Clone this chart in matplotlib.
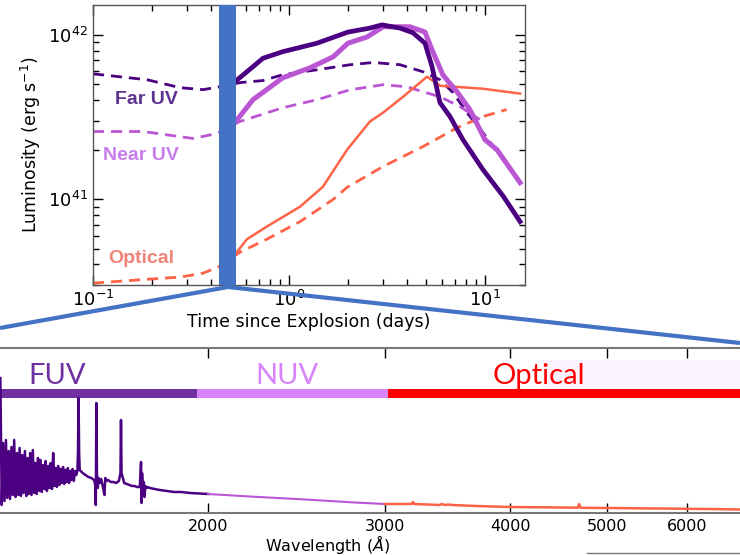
import numpy as np
import matplotlib
matplotlib.use("Agg")
import matplotlib.pyplot as plt
from matplotlib.ticker import FixedLocator, NullFormatter, NullLocator, FixedFormatter
from matplotlib.lines import Line2D
from matplotlib.patches import Rectangle

# ---------------- top panel data (t in days, L in 1e41 erg/s) ----------------
fuv_solid_t = [0.53, 0.655, 0.736, 0.93, 1.39, 2.0, 2.59, 2.98, 3.68, 4.29, 4.94, 5.37, 5.89, 6.63, 7.72, 9.77, 12.4, 15.1]
fuv_solid_L = [5.19, 6.4, 7.2, 7.9, 8.9, 10.4, 11.0, 11.5, 11.0, 10.3, 8.9, 6.4, 3.87, 3.18, 2.30, 1.51, 1.04, 0.73]

fuv_dash_t = [0.1, 0.189, 0.278, 0.364, 0.445, 0.562, 0.736, 0.93, 1.39, 2.05, 2.59, 2.81, 3.68, 4.83, 5.89, 6.87, 8.09, 9.77, 11.5]
fuv_dash_L = [5.79, 5.33, 4.77, 4.64, 4.83, 5.12, 5.27, 5.72, 6.13, 6.58, 6.76, 6.76, 6.58, 5.96, 5.33, 4.45, 3.36, 2.54, 1.95]

nuv_solid_t = [0.53, 0.655, 0.93, 1.28, 1.68, 2.0, 2.5, 3.02, 4.14, 4.94, 5.37, 6.1, 7.2, 8.38, 10.0, 11.5, 15.1]
nuv_solid_L = [2.93, 4.03, 5.48, 6.3, 7.35, 8.9, 9.7, 11.2, 11.2, 10.4, 8.1, 5.7, 4.5, 3.5, 2.3, 2.0, 1.26]

nuv_dash_t = [0.1, 0.18, 0.324, 0.43, 0.562, 0.93, 1.39, 2.05, 3.02, 4.0, 4.83, 5.89, 7.45, 9.4]
nuv_dash_L = [2.58, 2.58, 2.34, 2.51, 2.97, 3.6, 4.03, 4.63, 4.97, 4.83, 4.5, 4.2, 3.66, 3.05]

opt_solid_t = [0.53, 0.61, 0.77, 1.14, 1.49, 1.98, 2.59, 3.02, 3.82, 5.06, 5.89, 9.77, 15.1]
opt_solid_L = [0.46, 0.57, 0.68, 0.90, 1.19, 2.0, 2.97, 3.36, 4.2, 5.56, 4.9, 4.7, 4.39]

opt_dash_t = [0.1, 0.189, 0.278, 0.364, 0.434, 0.562, 0.77, 1.14, 1.68, 1.98, 3.02, 4.83, 7.2, 9.77, 12.9]
opt_dash_L = [0.308, 0.325, 0.335, 0.354, 0.385, 0.475, 0.57, 0.73, 0.996, 1.18, 1.58, 2.09, 2.72, 3.18, 3.51]

epoch_band = [0.44, 0.537]   # days, highlighted epoch
band_labels = ["Far UV", "Near UV", "Optical"]

# ---------------- bottom panel data (wavelength in Angstrom, arbitrary flux) ----------------
fuv_wave = [1242, 1246, 1250, 1254, 1258, 1262, 1266, 1270, 1274, 1278, 1282, 1286, 1290, 1294,
            1298, 1302, 1306, 1310, 1314, 1318, 1322, 1326, 1330, 1334, 1338, 1342, 1346, 1350,
            1354, 1358, 1362, 1366, 1370, 1374, 1378, 1382, 1386, 1390, 1394, 1398, 1402, 1406,
            1410, 1414, 1418, 1422, 1426, 1430, 1434, 1438, 1442, 1446, 1450, 1454, 1458, 1462,
            1466, 1470, 1474, 1478,
            1482, 1484, 1486, 1488, 1490, 1500, 1510, 1520, 1530, 1540, 1544, 1546, 1548, 1550,
            1553, 1556, 1560, 1565, 1570, 1577, 1580, 1585, 1590, 1600, 1610, 1620, 1630, 1636,
            1638, 1640, 1650, 1660, 1670, 1680, 1690, 1700, 1710, 1713, 1715, 1717, 1719, 1722,
            1726, 1729, 1732, 1736, 1740, 1750, 1770, 1790, 1820, 1850, 1880, 1920, 1960, 2000]
fuv_flux = [135, 8, 70, 12, 73, 15, 62, 14, 66, 18, 73, 16, 60, 18,
            65, 17, 58, 20, 62, 17, 55, 19, 60, 18, 63, 20, 50, 19,
            55, 22, 53, 21, 48, 24, 52, 22, 47, 25, 50, 24, 60, 27,
            45, 26, 47, 28, 44, 30, 46, 29, 43, 31, 45, 30, 42, 33,
            44, 32, 42, 38,
            42, 60, 115, 60, 43, 40, 38, 36, 35, 33, 28, 8, 110, 40,
            25, 35, 30, 34, 28, 18, 35, 32, 33, 31, 31, 30, 32, 40,
            93, 40, 30, 29, 28, 27, 27, 26, 26, 40, 51, 10, 40, 26,
            31, 16, 27, 25, 26, 25, 24, 23, 22, 21, 21, 20, 19.5, 19]

nuv_wave = [2000, 2200, 2500, 2800, 3000]
nuv_flux = [19, 16.5, 13.5, 10.5, 9]

opt_wave = [3000, 3150, 3190, 3200, 3210, 3400, 3420, 3440, 3475, 3500, 3700, 4000, 4500,
            4670, 4685, 4700, 5000, 5500, 6000, 6400, 6800]
opt_flux = [9, 9, 9, 11, 9, 8, 9, 8, 8.5, 8, 7, 6, 5.5, 5.3, 9, 5.2, 5, 4.6, 4.2, 3.9, 3.5]

band_edges = [1241, 1950, 3020, 6800]
spec_ticks = [2000, 3000, 4000, 5000, 6000]

# ---------------- styling ----------------
c_fuv = "#4B0082"
c_nuv = "#BA55D3"
c_opt = "#FF6347"
c_blue = "#4472C4"

fig = plt.figure(figsize=(7.4, 5.55), dpi=100)

# ---------------- top panel ----------------
ax = fig.add_axes([93/740, 1-285/555, 432/740, 280/555])
ax.set_xscale("log")
ax.set_yscale("log")

scale = 1e41
dash = (4, 2.5)
ax.plot(fuv_dash_t, np.array(fuv_dash_L)*scale, color=c_fuv, lw=2.0, ls=(0, dash))
ax.plot(nuv_dash_t, np.array(nuv_dash_L)*scale, color=c_nuv, lw=2.0, ls=(0, dash))
ax.plot(opt_dash_t, np.array(opt_dash_L)*scale, color=c_opt, lw=2.0, ls=(0, dash))
ax.plot(opt_solid_t, np.array(opt_solid_L)*scale, color=c_opt, lw=1.8)
ax.plot(nuv_solid_t, np.array(nuv_solid_L)*scale, color=c_nuv, lw=3.6)
ax.plot(fuv_solid_t, np.array(fuv_solid_L)*scale, color=c_fuv, lw=3.4)

ax.axvspan(epoch_band[0], epoch_band[1], color=c_blue, zorder=5, lw=0)

ax.set_xlim(0.1, 16.0)
ax.set_ylim(3.0e40, 1.52e42)

ax.tick_params(which="both", direction="in", top=True, right=True, labelsize=13)
ax.tick_params(which="major", length=7, width=1)
ax.tick_params(which="minor", length=4, width=1)
ax.set_xlabel("Time since Explosion (days)", fontsize=12.5, labelpad=2)
ax.set_ylabel(r"Luminosity (erg s$^{-1}$)", fontsize=12.5, labelpad=4)
for s in ax.spines.values():
    s.set_color("#555555")
    s.set_linewidth(1.0)

txt_kw = dict(transform=ax.transAxes, ha="center", va="center",
              fontsize=14, fontweight="bold", family=["Liberation Sans", "DejaVu Sans"])
ax.text(0.123, 0.661, band_labels[0], color="#5E3490", **txt_kw)
ax.text(0.110, 0.464, band_labels[1], color="#C77DEB", **txt_kw)
ax.text(0.112, 0.096, band_labels[2], color="#F08378", **txt_kw)

# ---------------- bottom panel ----------------
ax2 = fig.add_axes([0, 1-513/555, 1, 165/555])
ax2.set_xscale("log")
ax2.set_xlim(1241, 6776)
ax2.set_ylim(0, 165)

ax2.add_patch(Rectangle((543/740, (513-389)/165), 0.3, (389-360)/165,
                        transform=ax2.transAxes, color="#FAF2FD", lw=0, zorder=0))

yb0, yb1 = (513-398)/165, (513-389)/165
ax2.axvspan(band_edges[0], band_edges[1], ymin=yb0, ymax=yb1, color="#7030A0", lw=0)
ax2.axvspan(band_edges[1], band_edges[2], ymin=yb0, ymax=yb1, color="#D883FA", lw=0)
ax2.axvspan(band_edges[2], band_edges[3], ymin=yb0, ymax=yb1, color="#FF0000", lw=0)

ax2.plot(fuv_wave, fuv_flux, color=c_fuv, lw=1.8)
ax2.plot(nuv_wave, nuv_flux, color=c_nuv, lw=1.5)
ax2.plot(opt_wave, opt_flux, color=c_opt, lw=1.8)

lab_kw = dict(transform=ax2.transAxes, ha="center", va="baseline", fontsize=21,
              family=["Lato", "DejaVu Sans"])
ax2.text(57/740, (513-384)/165, "FUV", color="#7030A0", **lab_kw)
ax2.text(287/740, (513-384)/165, "NUV", color="#D883FA", **lab_kw)
ax2.text(539/740, (513-384)/165, "Optical", color="#FF0000", **lab_kw)

ax2.xaxis.set_major_locator(FixedLocator(spec_ticks))
ax2.xaxis.set_major_formatter(FixedFormatter([str(v) for v in spec_ticks]))
ax2.xaxis.set_minor_locator(NullLocator())
ax2.xaxis.set_minor_formatter(NullFormatter())
ax2.yaxis.set_major_locator(NullLocator())
ax2.tick_params(axis="x", direction="in", top=True, length=7, width=1, labelsize=11.5, pad=4)
ax2.spines["left"].set_visible(False)
ax2.spines["right"].set_visible(False)
for k in ("top", "bottom"):
    ax2.spines[k].set_color("#777777")
    ax2.spines[k].set_linewidth(1.5)
ax2.set_xlabel(r"Wavelength ($\AA$)", fontsize=11.5)
ax2.xaxis.set_label_coords(328/740, -0.12)

# ---------------- connecting zoom lines ----------------
apex_x = 228/740
apex_y = 1-287/555
fig.add_artist(Line2D([0, apex_x, 1], [1-328/555, apex_y, 1-343/555],
                      transform=fig.transFigure, color=c_blue, lw=3, solid_capstyle="butt"))
fig.add_artist(Line2D([587/740, 1], [1-553/555, 1-553/555],
                      transform=fig.transFigure, color="#777777", lw=1))

fig.savefig("out.png", dpi=100)
